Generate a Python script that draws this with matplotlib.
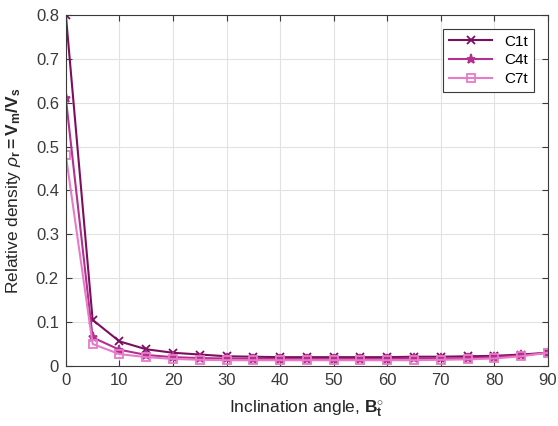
import matplotlib
matplotlib.use("Agg")
import matplotlib.pyplot as plt

plt.rcParams["font.family"] = ["Liberation Sans", "DejaVu Sans"]
plt.rcParams["mathtext.fontset"] = "custom"
plt.rcParams["mathtext.rm"] = "Liberation Sans"
plt.rcParams["mathtext.it"] = "Liberation Sans:italic"
plt.rcParams["mathtext.bf"] = "Liberation Sans:bold"

# inclination angle (deg)
angles = [0, 5, 10, 15, 20, 25, 30, 35, 40, 45, 50, 55, 60, 65, 70, 75, 80, 85, 90]

c1t = [0.80, 0.105, 0.056, 0.038, 0.030, 0.026, 0.022, 0.021, 0.020, 0.020,
       0.020, 0.020, 0.020, 0.021, 0.021, 0.022, 0.023, 0.026, 0.030]
c4t = [0.61, 0.065, 0.037, 0.025, 0.020, 0.018, 0.017, 0.016, 0.016, 0.016,
       0.016, 0.016, 0.016, 0.017, 0.017, 0.018, 0.020, 0.024, 0.030]
c7t = [0.48, 0.050, 0.027, 0.020, 0.016, 0.014, 0.013, 0.013, 0.013, 0.013,
       0.013, 0.013, 0.013, 0.013, 0.014, 0.015, 0.017, 0.022, 0.030]

labels = ["C1t", "C4t", "C7t"]
colors = ["#7b0f5e", "#b3308f", "#e77bc8"]
markers = ["x", "*", "s"]
msizes = [5.5, 6.5, 6]

fig = plt.figure(figsize=(5.58, 4.26), dpi=100)
ax = fig.add_axes([0.118, 0.141, 0.864, 0.824])

for y, lab, c, m, ms in zip([c1t, c4t, c7t], labels, colors, markers, msizes):
    ax.plot(angles, y, color=c, marker=m, lw=1.5, ms=ms,
            mfc="none" if m == "s" else c, mec=c, mew=1.3, label=lab)

ax.set_xlim(0, 90)
ax.set_ylim(0, 0.8)
ax.set_xticks(range(0, 91, 10))
ax.set_yticks([0, 0.1, 0.2, 0.3, 0.4, 0.5, 0.6, 0.7, 0.8])
ax.set_yticklabels(["0", "0.1", "0.2", "0.3", "0.4", "0.5", "0.6", "0.7", "0.8"])
ax.grid(True, color="#e2e2e2", lw=0.8)
ax.tick_params(direction="in", top=True, right=True, labelsize=12,
               colors="#3a3a3a", length=4, pad=5)
for s in ax.spines.values():
    s.set_color("#3a3a3a")
    s.set_linewidth(0.8)

ax.set_xlabel(r"Inclination angle, $\mathbf{B_t^{\circ}}$", fontsize=12.5,
              color="#262626", labelpad=8)
ax.set_ylabel(r"Relative density $\it{\rho}_\mathbf{r}\mathbf{=V_m/V_s}$",
              fontsize=12.5, color="#262626", labelpad=9)

leg = ax.legend(loc="upper right", fontsize=11, fancybox=False, framealpha=1,
                edgecolor="#3a3a3a", handlelength=2.8, borderpad=0.4,
                labelspacing=0.3, borderaxespad=0.9)
leg.get_frame().set_linewidth(0.8)

fig.savefig("out.png", dpi=100)
